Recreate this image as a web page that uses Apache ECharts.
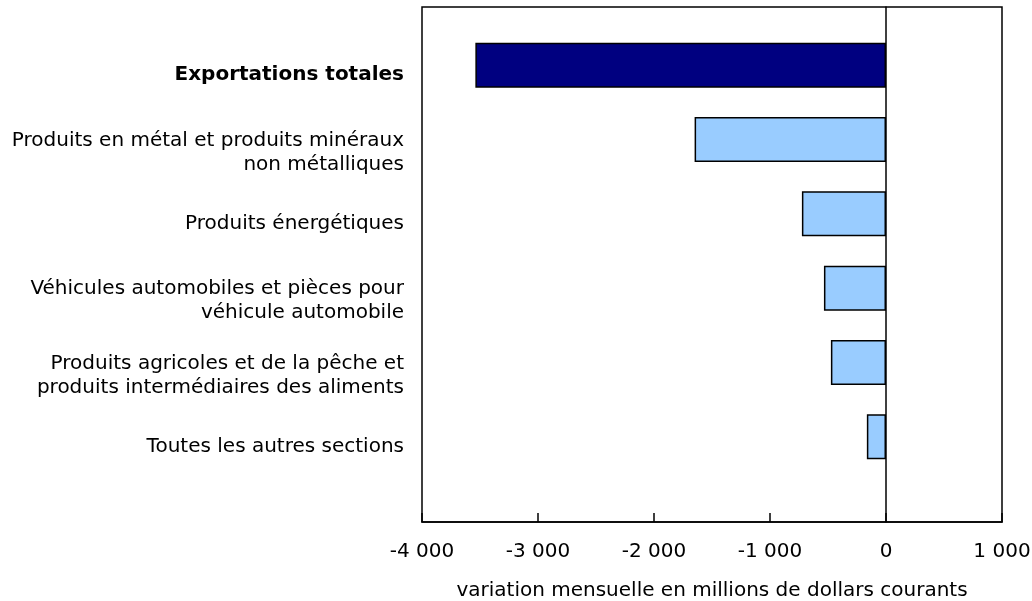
<!DOCTYPE html>
<html>
<head>
<meta charset="utf-8">
<script src="https://cdn.jsdelivr.net/npm/echarts@6/dist/echarts.min.js"></script>
<style>
  html, body { margin: 0; padding: 0; background: #fff; }
  #chart { width: 1032px; height: 601px; }
</style>
</head>
<body>
<div id="chart"></div>
<script>
var chart = echarts.init(document.getElementById("chart"));

var categories = [
    'Exportations totales',
    'Produits en métal et produits minéraux\nnon métalliques',
    'Produits énergétiques',
    'Véhicules automobiles et pièces pour\nvéhicule automobile',
    'Produits agricoles et de la pêche et\nproduits intermédiaires des aliments',
    'Toutes les autres sections'
];
var values = [-3540, -1650, -725, -535, -475, -165];
var barColors = ['#000080', '#99ccff', '#99ccff', '#99ccff', '#99ccff', '#99ccff'];
var xTicks = { min: -4000, max: 1000, interval: 1000 };

var fontName = 'DejaVu Sans';
var fs = 20;

// format with a space as thousands separator
function fmt(v) {
    return String(v).replace(/\B(?=(\d{3})+(?!\d))/g, ' ');
}

var barData = values.map(function (v, i) {
    return { value: v, itemStyle: { color: barColors[i] } };
});

chart.setOption({
    animation: false,
    textStyle: { fontFamily: fontName },
    grid: [
        // frame + x axis
        { left: 422, right: 30, top: 7, height: 515, outerBoundsMode: 'none', containLabel: false,
          show: true, borderColor: '#000', borderWidth: 1.5, backgroundColor: 'transparent' },
        // bars
        { left: 422, right: 30, top: 28, height: 446, outerBoundsMode: 'none', containLabel: false }
    ],
    xAxis: [
        {
            gridIndex: 0, type: 'value',
            min: xTicks.min, max: xTicks.max, interval: xTicks.interval,
            axisLine: { show: true, lineStyle: { color: '#000', width: 1.5 } },
            axisTick: { show: true, inside: true, length: 9, lineStyle: { color: '#000', width: 1.5 } },
            splitLine: { show: false },
            axisLabel: { formatter: fmt, color: '#000', fontSize: fs, margin: 20, fontFamily: fontName },
            name: 'variation mensuelle en millions de dollars courants',
            nameLocation: 'middle', nameGap: 59,
            nameTextStyle: { color: '#000', fontSize: fs, fontFamily: fontName }
        },
        {
            gridIndex: 1, type: 'value',
            min: xTicks.min, max: xTicks.max, interval: xTicks.interval,
            show: false
        }
    ],
    yAxis: [
        {
            gridIndex: 0, type: 'value', min: 0, max: 1,
            axisLine: { show: true, onZero: true, lineStyle: { color: '#000', width: 1.5 } },
            axisTick: { show: false }, axisLabel: { show: false }, splitLine: { show: false }
        },
        {
            gridIndex: 1, type: 'category', inverse: true,
            data: categories,
            axisLine: { show: false }, axisTick: { show: false }, splitLine: { show: false },
            axisLabel: {
                color: '#000', fontSize: fs, lineHeight: 24, margin: 18, fontFamily: fontName,
                padding: [26, 0, 0, 0],
                formatter: function (v, i) {
                    if (v.indexOf('\n') >= 0) return v;
                    return (i === 0 ? '{b|' : '{s|') + v + '}';
                },
                rich: {
                    b: { fontWeight: 'bold', fontSize: fs, lineHeight: 24, color: '#000', fontFamily: fontName, padding: [0, 0, 6, 0] },
                    s: { fontSize: fs, lineHeight: 24, color: '#000', fontFamily: fontName, padding: [0, 0, 6, 0] }
                }
            }
        }
    ],
    series: [{
        type: 'bar',
        xAxisIndex: 1, yAxisIndex: 1,
        barWidth: 45,
        data: barData,
        itemStyle: { borderColor: '#000', borderWidth: 1.5 }
    }]
});
</script>
</body>
</html>
